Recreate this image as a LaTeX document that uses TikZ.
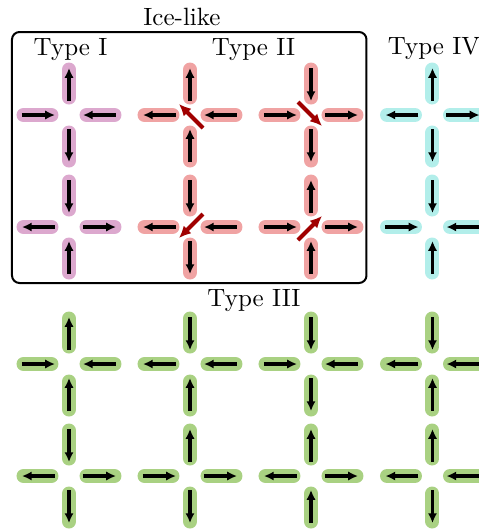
\documentclass[tikz,border=0pt]{standalone}
\usetikzlibrary{arrows.meta}
\definecolor{cI}{HTML}{DCA8CE}
\definecolor{cII}{HTML}{F0A3A3}
\definecolor{cIII}{HTML}{A9D182}
\definecolor{cIV}{HTML}{B2EEEA}
\definecolor{flipred}{HTML}{A00000}
\tikzset{
  barline/.style={line width=5.6pt, line cap=round, draw=#1},
  spinarrow/.style={line width=1.25pt, -{Latex[length=3.9pt,width=3.7pt]}},
  netarrow/.style={line width=1.6pt, draw=flipred, -{Latex[length=4.8pt,width=4.4pt]}},
  typelabel/.style={anchor=base, inner sep=0pt},
  icebox/.style={line width=0.8pt, rounded corners=3pt}
}
% #1 name, #2 position, #3 colour, #4 up, #5 left, #6 right, #7 down (1 = in, -1 = out)
\newcommand\spinvertex[7]{%
  \coordinate (#1) at (#2);
  \begin{scope}[shift={(#1)}]
  \foreach \dx/\dy/\s in {0/-1/#4, -1/0/#5, 1/0/#6, 0/1/#7}{
    \draw[barline=#3] ({17.5*\dx},{17.5*\dy}) -- ({45.5*\dx},{45.5*\dy});
    \draw[spinarrow] ({(30.5+16.5*(\s))*\dx},{(30.5+16.5*(\s))*\dy}) -- ({(30.5-16.5*(\s))*\dx},{(30.5-16.5*(\s))*\dy});
  }
  \end{scope}}
\begin{document}
\begin{tikzpicture}[x=0.4pt,y=-0.4pt]
\useasboundingbox (0,0) rectangle (479,529);
\clip (0,0) rectangle (479,529);
% ice-like frame
\draw[icebox] (12,32) rectangle (366.5,283);
\node[typelabel] (ice) at (182,25) {Ice-like};
\node[typelabel] (tI) at (70.5,55) {Type I};
\node[typelabel] (tII) at (253.5,55) {Type II};
\node[typelabel] (tIV) at (434,54) {Type IV};
\node[typelabel] (tIII) at (254,306) {Type III};
% row 1
\spinvertex{v11}{69,115}{cI}{-1}{1}{1}{-1}
\spinvertex{v21}{190,115}{cII}{-1}{-1}{1}{1}
\spinvertex{v31}{311,115}{cII}{1}{1}{-1}{-1}
\spinvertex{v41}{432.5,115}{cIV}{-1}{-1}{-1}{-1}
% row 2
\spinvertex{v12}{69,227}{cI}{1}{-1}{-1}{1}
\spinvertex{v22}{190,227}{cII}{1}{-1}{1}{-1}
\spinvertex{v32}{311,227}{cII}{-1}{1}{-1}{1}
\spinvertex{v42}{432.5,227}{cIV}{1}{1}{1}{1}
% row 3
\spinvertex{v13}{69,364}{cIII}{-1}{1}{1}{1}
\spinvertex{v23}{190,364}{cIII}{1}{-1}{1}{1}
\spinvertex{v33}{311,364}{cIII}{1}{1}{1}{-1}
\spinvertex{v43}{432.5,364}{cIII}{1}{-1}{1}{1}
% row 4
\spinvertex{v14}{69,476}{cIII}{1}{-1}{-1}{-1}
\spinvertex{v24}{190,476}{cIII}{-1}{1}{-1}{-1}
\spinvertex{v34}{311,476}{cIII}{-1}{-1}{-1}{1}
\spinvertex{v44}{432.5,476}{cIII}{-1}{-1}{1}{-1}
% net moments of the type II vertices
\draw[netarrow, shift={(v21)}] (13,13) -- (-11,-11);
\draw[netarrow, shift={(v31)}] (-13,-13) -- (11,11);
\draw[netarrow, shift={(v22)}] (13,-13) -- (-11,11);
\draw[netarrow, shift={(v32)}] (-13,13) -- (11,-11);
\end{tikzpicture}
\end{document}
